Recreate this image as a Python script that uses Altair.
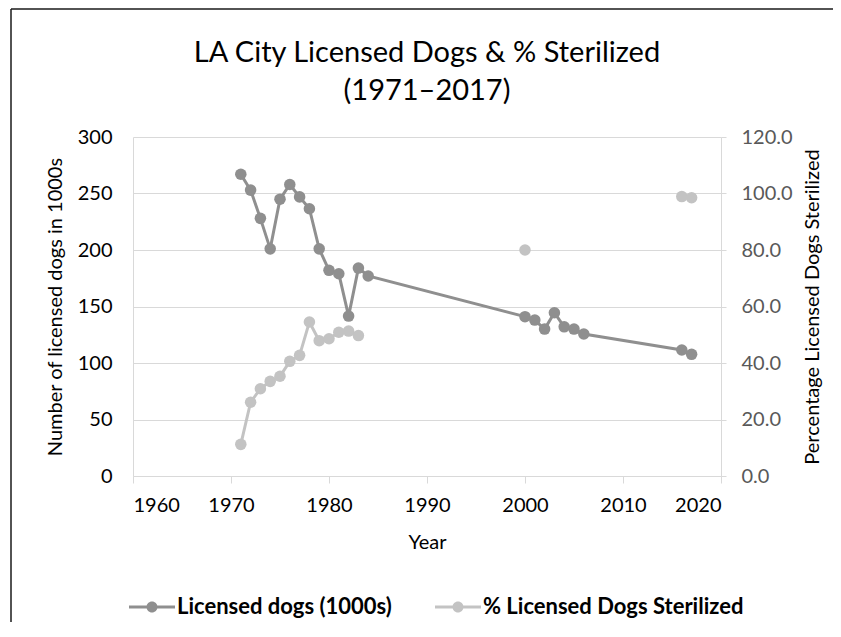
import altair as alt
import pandas as pd

# ---- data ----
years = [1971, 1972, 1973, 1974, 1975, 1976, 1977, 1978, 1979, 1980, 1981, 1982, 1983, 1984,
         2000, 2001, 2002, 2003, 2004, 2005, 2006, 2016, 2017]
licensed_dogs = [267, 253, 228, 201, 245, 258, 247, 236.5, 201, 182, 179, 141.5, 184, 177,
                 141, 138, 130, 144.5, 132, 130, 125.7, 111.5, 107.7]
pct_sterilized = [11.2, 26.1, 30.9, 33.5, 35.3, 40.6, 42.7, 54.5, 47.9, 48.6, 50.9, 51.3, 49.7, None,
                  80.0, None, None, None, None, None, None, 98.9, 98.5]

series_names = ["Licensed dogs (1000s)", "% Licensed Dogs Sterilized"]
series_colors = ["#8f8f8f", "#c3c3c3"]
x_ticks = [1960, 1970, 1980, 1990, 2000, 2010, 2020]
left_ticks = [0, 50, 100, 150, 200, 250, 300]
right_ticks = [0, 20, 40, 60, 80, 100, 120]

# ---- tables ----
df_dogs = pd.DataFrame({"year": years, "value": licensed_dogs, "series": series_names[0], "seg": 0})
rows = []
seg = 0
for y, v in zip(years, pct_sterilized):
    if v is None:
        seg += 1
        continue
    rows.append({"year": y, "value": v, "series": series_names[1], "seg": seg})
df_pct = pd.DataFrame(rows)

FONT = "Lato"
GRID = "#d9d9d9"

legend_path = ("M-4.6,-0.3H-1V0.3H-4.6Z M1,-0.3H4.6V0.3H1Z "
               "M-1.1,0A1.1,1.1,0,1,1,1.1,0A1.1,1.1,0,1,1,-1.1,0Z")

color = alt.Color(
    "series:N",
    scale=alt.Scale(domain=series_names, range=series_colors),
    legend=alt.Legend(
        title=None, orient="none", direction="horizontal",
        legendX=8, legendY=459,
        symbolType=legend_path, symbolSize=100, symbolStrokeWidth=0,
        symbolOpacity=1, labelFontSize=22, labelFontWeight="bold", labelColor="black",
        labelOffset=14, columnPadding=43, labelFont=FONT, labelLimit=500,
    ),
)

x = alt.X(
    "year:Q",
    scale=alt.Scale(domain=[1960, 2020], nice=False, zero=False),
    axis=alt.Axis(values=x_ticks, format="d", title="Year", grid=False,
                  domainColor=GRID, tickColor=GRID, tickSize=7,
                  labelFontSize=20, labelColor="black", labelPadding=12,
                  titleFontSize=20, titleFontWeight="normal", titleColor="black",
                  titlePadding=17),
)

base_left = alt.Chart(df_dogs).encode(
    x=x,
    y=alt.Y("value:Q", scale=alt.Scale(domain=[0, 300], nice=False),
            axis=alt.Axis(orient="left", values=left_ticks, title="Number of licensed dogs in 1000s",
                          grid=True, gridColor=GRID, domainColor=GRID, ticks=False,
                          labelFontSize=20, labelColor="black", labelPadding=21,
                          titleFontSize=20, titleFontWeight="normal", titleColor="black",
                          titlePadding=12)),
    color=color,
)
left = alt.layer(
    base_left.mark_line(strokeWidth=3),
    base_left.mark_circle(size=133, opacity=1),
)

base_right = alt.Chart(df_pct).encode(
    x=x,
    y=alt.Y("value:Q", scale=alt.Scale(domain=[0, 120], nice=False),
            axis=alt.Axis(orient="right", values=right_ticks, format=".1f",
                          title="Percentage Licensed Dogs Sterilized", titleAngle=270,
                          grid=False, domainColor=GRID, tickColor=GRID, tickSize=5,
                          labelFontSize=20, labelColor="#595959", labelPadding=15,
                          titleFontSize=20, titleFontWeight="normal", titleColor="black",
                          titlePadding=30)),
    color=color,
    detail="seg:N",
)
right = alt.layer(
    base_right.mark_line(strokeWidth=3),
    base_right.mark_circle(size=133, opacity=1),
)

frame_df = pd.DataFrame({"k": [0]})
frame_top = alt.Chart(frame_df).mark_rule(color="#1a1a1a", strokeWidth=1.5).encode(
    x=alt.value(-122), x2=alt.value(1200), y=alt.value(-128))
frame_left = alt.Chart(frame_df).mark_rule(color="#1a1a1a", strokeWidth=1.5).encode(
    x=alt.value(-122), y=alt.value(-128), y2=alt.value(1200))

chart = alt.layer(frame_top, frame_left, left, right).resolve_scale(y="independent").properties(
    width=588, height=339,
    title=alt.TitleParams(text=["LA City Licensed Dogs & % Sterilized", "(1971\u20132017)"],
                          fontSize=29, fontWeight="normal", lineHeight=38, anchor="middle",
                          color="black", offset=-98, font=FONT),
    padding={"left": 125, "top": 129, "right": 112, "bottom": 146},
    autosize=alt.AutoSizeParams(type="none"),
    background="white",
).configure(font=FONT).configure_view(strokeWidth=0)

chart.save("out.html", embed_options={"renderer": "svg", "actions": False})
